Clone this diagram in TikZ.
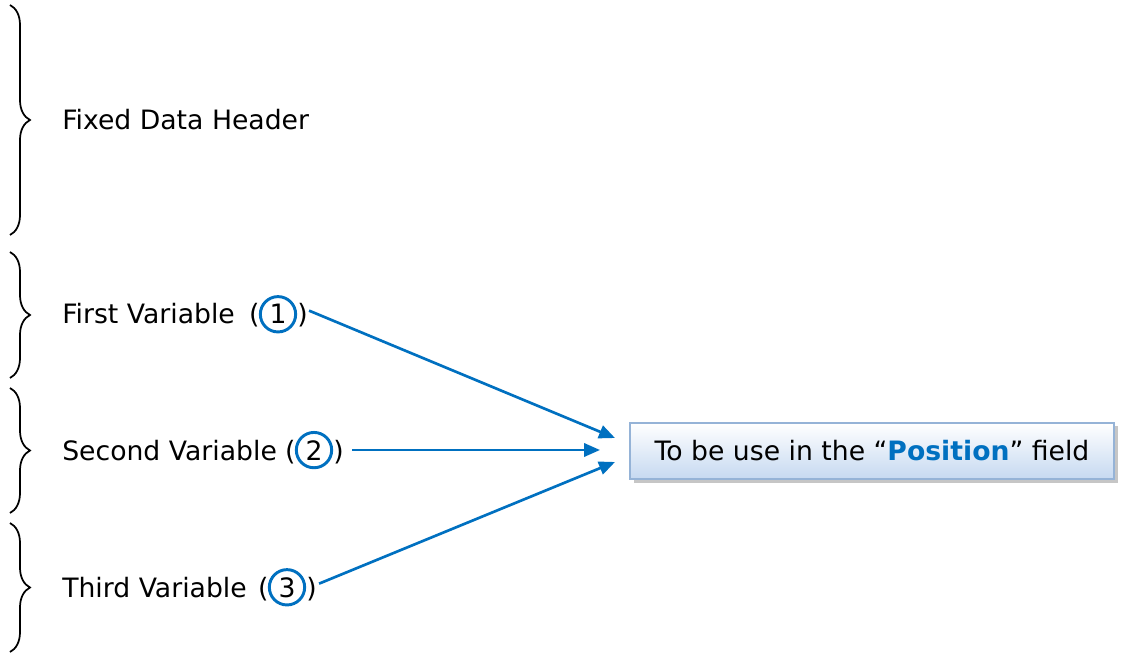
\documentclass[tikz,border=0pt]{standalone}
\usepackage{fontspec}
\setmainfont{DejaVu Sans}
\usetikzlibrary{decorations.pathreplacing,calc,arrows.meta,shadows}
\definecolor{arrowblue}{HTML}{0070C0}
\definecolor{boxedge}{HTML}{95B3D7}
\definecolor{boxfill}{HTML}{C6D9F1}
\begin{document}
\begin{tikzpicture}[x=0.75pt,y=-0.75pt,
  lbl/.style={inner sep=0pt,font=\fontsize{20}{24}\selectfont,text=black},
  bracedeco/.style={decorate,decoration={brace,amplitude=15pt},line width=1.3pt},
  num/.style={circle,draw=arrowblue,line width=2.2pt,inner sep=0pt,minimum size=26.5pt,font=\fontsize{20}{24}\selectfont},
  link/.style={draw=arrowblue,line width=2pt,-{Triangle[length=12pt,width=10pt]}},
  target/.style={draw=boxedge,line width=1.2pt,top color=white,bottom color=boxfill,minimum width=363pt,minimum height=42pt,inner sep=0pt,font=\fontsize{20}{24}\selectfont}]
\useasboundingbox (0,0) rectangle (1124,655);
% braces
\draw[bracedeco] (10,5) -- (10,235);
\draw[bracedeco] (10,252) -- (10,378);
\draw[bracedeco] (10,388) -- (10,513);
\draw[bracedeco] (10,523) -- (10,652);
% labels
\node[lbl,anchor=base west] (h) at (62,130) {Fixed Data Header};
\node[lbl,anchor=base west] (t1) at (62,324) {First Variable};
\node[num,anchor=base] (c1) at (278,324) {1};
\node[lbl,anchor=base east] (o1) at ($(c1.base west)+(1,0)$) {(};
\node[lbl,anchor=base west] (p1) at (c1.base east) {)};
\node[lbl,anchor=base west] (t2) at (62,460) {Second Variable};
\node[num,anchor=base] (c2) at (314,460) {2};
\node[lbl,anchor=base east] (o2) at ($(c2.base west)+(1,0)$) {(};
\node[lbl,anchor=base west] (p2) at (c2.base east) {)};
\node[lbl,anchor=base west] (t3) at (62,597) {Third Variable};
\node[num,anchor=base] (c3) at (287,597) {3};
\node[lbl,anchor=base east] (o3) at ($(c3.base west)+(1,0)$) {(};
\node[lbl,anchor=base west] (p3) at (c3.base east) {)};
% target box
\fill[gray!45] (634,426) rectangle (1118,483);
\node[target] (box) at (872,451) {To be use in the \textquotedblleft\textcolor{arrowblue}{\textbf{Position}}\textquotedblright{} field};
% arrows
\coordinate (a1) at (615,438);
\coordinate (a2) at (600,450);
\coordinate (a3) at (615,462);
\coordinate (s2) at ($(p2.east)+(8,0)$);
\draw[link] ($(p1.east)+(1,-5)$) -- (a1);
\draw[link] (s2 |- a2) -- (a2);
\draw[link] ($(p3.east)+(2,-5)$) -- (a3);
\end{tikzpicture}
\end{document}
